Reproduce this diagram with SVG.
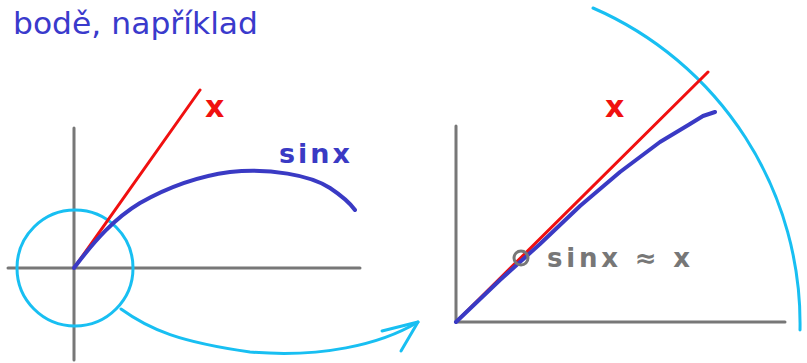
<svg xmlns="http://www.w3.org/2000/svg" width="807" height="363" viewBox="0 0 807 363">
<style>
.axis{stroke:#777;stroke-width:3;fill:none;stroke-linecap:round}
.red{stroke:#f01010;stroke-width:3;fill:none;stroke-linecap:round}
.blue{stroke:#3a3ac4;stroke-width:4;fill:none;stroke-linecap:round;stroke-linejoin:round}
.cyan{stroke:#18bff2;stroke-width:3;fill:none;stroke-linecap:round;stroke-linejoin:round}
.hand{font-family:"DejaVu Sans",sans-serif;font-weight:bold}
</style>
<rect width="807" height="363" fill="#fff"/>
<text x="13" y="34" font-family="DejaVu Sans, sans-serif" font-size="30" fill="#3a3acc" textLength="245" lengthAdjust="spacingAndGlyphs">bodě, například</text>
<g id="left-plot">
<line class="axis" x1="8" y1="268" x2="360" y2="268"/>
<line class="axis" x1="74" y1="128" x2="74" y2="360"/>
<circle class="cyan" cx="75" cy="268" r="58"/>
<line class="red" x1="74" y1="268" x2="200" y2="90"/>
<path class="blue" d="M74,268 C95,240 115,218 140,203 C170,186 200,176 230,172 C270,168 310,175 330,188 C342,196 350,203 355,210"/>
<text class="hand" x="205" y="117" font-size="30" fill="#f01010">x</text>
<text class="hand" x="279" y="163" font-size="27" fill="#3a3ac4" letter-spacing="3">sinx</text>
</g>
<g id="right-plot">
<line class="axis" x1="456" y1="126" x2="456" y2="322"/>
<line class="axis" x1="456" y1="322" x2="785" y2="322"/>
<path class="cyan" d="M593,8 A344,344 0 0 1 800,330"/>
<line class="red" x1="456" y1="322" x2="708" y2="72"/>
<path class="blue" d="M456,322 L500,280 L540,244 L580,206 L620,172 L660,142 L690,124 L703,116 L715,112"/>
<text class="hand" x="605" y="117" font-size="30" fill="#f01010">x</text>
<circle cx="521" cy="258" r="7" fill="none" stroke="#777" stroke-width="3"/>
<text class="hand" x="547" y="267" font-size="26" fill="#777" textLength="143" lengthAdjust="spacing">sinx ≈ x</text>
</g>
<g id="connectors">
<path class="cyan" d="M121,309 C150,330 180,342 250,352 C320,358 380,345 418,322"/>
<path class="cyan" d="M382,331 L418,322 L401,351"/>
</g>
</svg>
